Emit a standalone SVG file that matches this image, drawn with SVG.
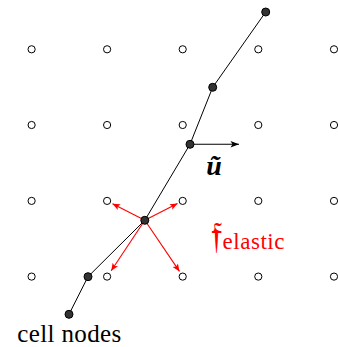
<svg xmlns="http://www.w3.org/2000/svg" width="338" height="347" viewBox="0 0 338 347">
<style>
.grid circle{fill:#fff;stroke:#000;stroke-width:1}
.cell circle{fill:#333;stroke:#000;stroke-width:1}
.fiber{fill:none;stroke:#000;stroke-width:1}
.vel{stroke:#000;stroke-width:1.1;fill:none}
.force line{stroke:#f00;stroke-width:1.1;fill:none}
</style>
<defs>
<marker id="ahB" markerUnits="userSpaceOnUse" markerWidth="12" markerHeight="10" viewBox="-9 -5 10 10" refX="0" refY="0" orient="auto">
<path d="M0,0 L-8.5,-3.2 L-6.5,0 L-8.5,3.2 Z" fill="#000"/>
</marker>
<marker id="ahR" markerUnits="userSpaceOnUse" markerWidth="12" markerHeight="10" viewBox="-9 -5 10 10" refX="0" refY="0" orient="auto">
<path d="M0,0 L-7.5,-3.2 L-5.8,0 L-7.5,3.2 Z" fill="#f00"/>
</marker>
</defs>
<g id="lattice" class="grid">
<circle cx="31.6" cy="49.3" r="3.6"/><circle cx="107.1" cy="49.3" r="3.6"/><circle cx="182.7" cy="49.3" r="3.6"/><circle cx="258.3" cy="49.3" r="3.6"/><circle cx="334" cy="49.3" r="3.6"/>
<circle cx="31.6" cy="125" r="3.6"/><circle cx="107.1" cy="125" r="3.6"/><circle cx="182.7" cy="125" r="3.6"/><circle cx="258.3" cy="125" r="3.6"/><circle cx="334" cy="125" r="3.6"/>
<circle cx="31.6" cy="200.9" r="3.6"/><circle cx="107.1" cy="200.9" r="3.6"/><circle cx="182.7" cy="200.9" r="3.6"/><circle cx="258.3" cy="200.9" r="3.6"/><circle cx="334" cy="200.9" r="3.6"/>
<circle cx="31.6" cy="276.6" r="3.6"/><circle cx="107.1" cy="276.6" r="3.6"/><circle cx="182.7" cy="276.6" r="3.6"/><circle cx="258.3" cy="276.6" r="3.6"/><circle cx="334" cy="276.6" r="3.6"/>
</g>
<g id="connectors">
<polyline class="fiber" points="265.7,12 212.7,87.3 190,144.3 144.8,220.3 88,276.7 69,314.3"/>
<line class="vel" x1="190" y1="144.3" x2="239" y2="144.3" marker-end="url(#ahB)"/>
<g class="force">
<line x1="144.8" y1="220.3" x2="112.5" y2="203.8" marker-end="url(#ahR)"/>
<line x1="144.8" y1="220.3" x2="177.5" y2="203.6" marker-end="url(#ahR)"/>
<line x1="144.8" y1="220.3" x2="111.2" y2="270.8" marker-end="url(#ahR)"/>
<line x1="144.8" y1="220.3" x2="179.5" y2="271.4" marker-end="url(#ahR)"/>
</g>
</g>
<g id="cell-nodes" class="cell">
<circle cx="265.7" cy="12" r="4"/>
<circle cx="212.7" cy="87.3" r="4"/>
<circle cx="190" cy="144.3" r="4"/>
<circle cx="144.8" cy="220.3" r="4"/>
<circle cx="88" cy="276.7" r="4"/>
<circle cx="69" cy="314.3" r="4"/>
</g>
<g id="labels">
<text x="214" y="175" font-size="28" font-weight="bold" font-style="italic" text-anchor="middle" font-family="Liberation Serif, Times New Roman, serif">ũ</text>
<text x="211" y="248" font-size="38" fill="#f00" font-family="DejaVu Serif, serif">𝔣</text>
<text x="222.5" y="249.3" font-size="23" fill="#f00" textLength="62" lengthAdjust="spacing" font-family="Liberation Serif, Times New Roman, serif">elastic</text>
<text x="17.3" y="341.5" font-size="25" textLength="104" lengthAdjust="spacing" font-family="Liberation Serif, Times New Roman, serif">cell nodes</text>
</g>
</svg>
